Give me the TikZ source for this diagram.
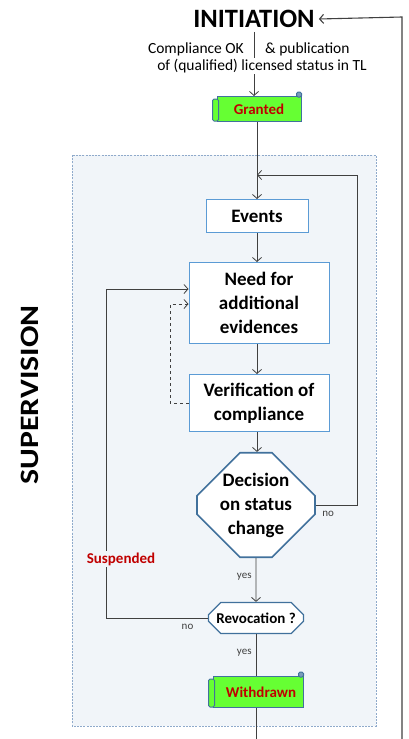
\documentclass[tikz,border=0pt]{standalone}
\usepackage{fontspec}
\setmainfont{Carlito}
\usetikzlibrary{arrows.meta,shapes.misc}

\definecolor{azulcaja}{HTML}{5B9BD5}
\definecolor{azuloscuro}{HTML}{41719C}
\definecolor{verde}{HTML}{66FF33}
\definecolor{rojo}{HTML}{C00000}
\definecolor{fondo}{HTML}{F1F5F9}
\definecolor{borde}{HTML}{8FAACB}
\definecolor{gris}{HTML}{404040}

\tikzset{
  flecha/.style={draw=gris, line width=0.8pt, -{Straight Barb[length=4pt,width=9pt]}},
  trazo/.style={draw=gris, line width=0.8pt},
  caja/.style={rectangle, draw=azulcaja, line width=1pt, fill=white, align=center,
    inner sep=0pt, font=\fontsize{19}{24}\selectfont\bfseries},
  octogono/.style={chamfered rectangle, draw=azuloscuro, line width=1.6pt, fill=white,
    align=center, inner sep=0pt, font=\fontsize{19}{24}\selectfont\bfseries},
  pergamino/.style={rectangle, draw=azuloscuro, line width=1pt, fill=verde, inner sep=0pt,
    text=rojo, font=\fontsize{15}{18}\selectfont\bfseries},
  titulo/.style={font=\fontsize{26.5}{30}\selectfont\bfseries, inner sep=4pt},
  texto/.style={font=\fontsize{15.5}{18}\selectfont, inner sep=0pt},
  chico/.style={font=\fontsize{11}{13}\selectfont, text=gris, inner sep=0pt}
}

\begin{document}
\begin{tikzpicture}[x=1pt,y=-1pt]
        \useasboundingbox (0,0) rectangle (408,739);

        % Paso 1: Dibuja el recuadro de supervision
        \draw[draw=borde, fill=fondo, line width=0.8pt, dash pattern=on 2pt off 1.2pt]
          (72,155) rectangle (376,726);
        \node[titulo, rotate=90, xscale=1.2] (sup) at (30,395) {SUPERVISION};

        % Paso 2: Define los nodos del flujo
        \node[titulo] (ini) at (254,19) {INITIATION};
        \node[pergamino, minimum width=84pt, minimum height=25pt] (granted) at (259,109) {Granted};
        \node[caja, minimum width=102pt, minimum height=33pt] (events) at (257,216) {Events};
        \node[caja, minimum width=140pt, minimum height=81pt] (need) at (259,303)
          {Need for\\additional\\evidences};
        \node[caja, minimum width=140pt, minimum height=57pt] (verif) at (259,403)
          {Verification of\\compliance};
        \node[octogono, minimum width=104pt, minimum height=83pt,
          chamfered rectangle xsep=23pt, chamfered rectangle ysep=20pt] (decision) at (256,505)
          {Decision\\on status\\change};
        \node[octogono, line width=1.2pt, minimum width=95pt, minimum height=31pt,
          chamfered rectangle xsep=7pt, chamfered rectangle ysep=7pt,
          font=\fontsize{15}{18}\selectfont\bfseries] (revoc) at (256,618) {Revocation ?};
        \node[pergamino, minimum width=90pt, minimum height=31pt] (withdrawn) at (258,692)
          {\hspace*{6pt}Withdrawn};

        % Paso 3: Rollos de los pergaminos
        \foreach \n in {granted,withdrawn}{
          \filldraw[draw=azuloscuro, fill=verde, line width=1pt, rounded corners=1.5pt]
            ([xshift=-4pt,yshift=-3pt]\n.north west) rectangle ([xshift=2pt,yshift=1pt]\n.south west);
          \filldraw[draw=azuloscuro, fill=azuloscuro!70, line width=1pt, rounded corners=1.5pt]
            ([xshift=-5pt,yshift=-1pt]\n.north east) rectangle ([yshift=4pt]\n.north east);
        }

        % Paso 4: Coordenadas de los lazos
        \coordinate (lazo) at (357,175);
        \coordinate (susp) at (106,289);
        \coordinate (retro) at (170,304);
        \coordinate (fin) at (257,739);
        \coordinate (abajo) at (402,739);
        \coordinate (arriba) at (402,17);

        % Paso 5: Dibuja los conectores
        \draw[flecha] (ini.south) -- (granted.north -| ini.south);
        \draw[flecha] (granted.south -| events.north) -- (events.north);
        \draw[flecha] (events) -- (events |- need.north);
        \draw[flecha] (need.south -| events) -- (events |- verif.north);
        \draw[flecha] (verif.south -| events) -- (events |- decision.north);
        \draw[flecha] (decision) -- node[chico, pos=0.42, left=4pt] {yes} (revoc);
        \draw[flecha] (decision.east) -- node[chico, pos=0.3, below=6pt] {no} (lazo |- decision.east)
          -- (lazo) -- (lazo -| events);
        \draw[flecha] (revoc.west) -- node[chico, pos=0.2, below=6pt] {no} (susp |- revoc.west)
          -- (susp) -- (susp -| need.west);
        \draw[flecha, dashed] (verif.west) -| (retro) -- (retro -| need.west);
        \draw[trazo] (revoc) -- node[chico, pos=0.45, left=4pt] {yes} (revoc |- withdrawn.north);
        \draw[trazo] (withdrawn.south -| revoc) -- (fin -| revoc);
        \draw[flecha, line width=1.1pt] (abajo) -- (arriba) -- (ini.east);

        % Paso 6: Agrega los textos
        \node[texto, anchor=east] (cumple) at (244,49) {Compliance OK};
        \node[texto, anchor=west] (publica) at (265,49) {\& publication};
        \node[texto, fill=white, inner sep=1pt] (estado) at (262,66) {of (qualified) licensed status in TL};
        \node[fill=fondo, text=rojo, inner sep=2pt, font=\fontsize{15}{18}\selectfont\bfseries]
          (suspended) at (121,559) {Suspended};
\end{tikzpicture}
\end{document}
